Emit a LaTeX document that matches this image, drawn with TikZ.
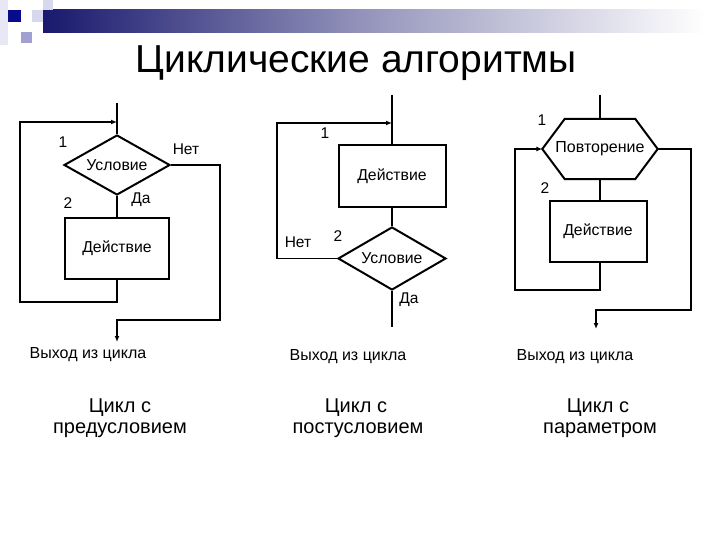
\documentclass[tikz,border=0pt]{standalone}
\usepackage{fontspec}
\setmainfont{Liberation Sans}
\usetikzlibrary{shapes.geometric,arrows.meta,calc}
\definecolor{navy}{RGB}{25,25,110}
\definecolor{deepblue}{RGB}{10,10,140}
\definecolor{lav}{RGB}{215,215,238}
\definecolor{midlav}{RGB}{160,160,210}
\begin{document}
\begin{tikzpicture}[x=1pt,y=-1pt,
  line/.style={line width=2pt},
  thinline/.style={line width=1.5pt},
  arr/.style={-{Latex[length=6pt,width=5pt]}},
  lbl/.style={font=\fontsize{15.5}{17}\selectfont, inner sep=0},
  exitlbl/.style={font=\fontsize{16}{18}\selectfont, inner sep=0},
  ttl/.style={font=\fontsize{20}{24}\selectfont, inner sep=0, anchor=base},
  actbox/.style={draw, line width=2pt, minimum width=104pt, minimum height=61pt, inner sep=0, font=\fontsize{15.8}{17}\selectfont},
  cond/.style={diamond, draw, line width=2pt, aspect=2, minimum width=106pt, minimum height=60pt, inner sep=0, font=\fontsize{15.8}{17}\selectfont},
  hexnode/.style={rectangle, minimum width=115pt, minimum height=60pt, inner sep=0, font=\fontsize{16}{17}\selectfont},
]
\useasboundingbox (0,0) rectangle (720,540);
% header decoration
\fill[lav!60] (0,0) rectangle (8,45);
\shade[left color=navy, right color=white, middle color=navy!45] (43,10) rectangle (705,33);
\fill[lav] (43,0) rectangle (53,10);
\fill[deepblue] (8,10) rectangle (21,22);
\fill[lav] (32,10) rectangle (43,22);
\fill[midlav] (21,32) rectangle (32,43);
% title
\node[font=\fontsize{39}{44}\selectfont, inner sep=0, anchor=base] (title) at (356,73) {Циклические алгоритмы};

% ---------- left: pre-condition loop ----------
\coordinate (t1) at (117,103);
\coordinate (j1) at (117,122);
\node[cond] (c1) at (117,165) {Условие};
\node[actbox] (a1) at (117,248.5) {Действие};
\coordinate (e1) at (117,342);
\draw[line] (t1) -- (c1.north);
\draw[line] (c1.south) -- (a1.north);
\draw[thinline,arr] (a1.south) -- (117,302) -- (20,302) -- (20,122) -- (j1);
\draw[line,arr] (c1.east) -- (220,165) -- (220,320) -- (117,320) -- (e1);
\node[lbl] (n11) at (63,142) {1};
\node[lbl] (n12) at (68,203) {2};
\node[lbl] (no1) at (186,149) {Нет};
\node[lbl] (yes1) at (141,200) {Да};
\node[exitlbl] (x1) at (88,355) {Выход из цикла};
\node[ttl] (tt1a) at (120,412) {Цикл с};
\node[ttl] (tt1b) at (120,433) {предусловием};

% ---------- middle: post-condition loop ----------
\coordinate (t2) at (392,95);
\coordinate (j2) at (392,123);
\node[actbox, minimum width=107pt, minimum height=62pt] (a2) at (392,176) {Действие};
\node[cond, minimum width=108pt, minimum height=63pt] (c2) at (392,258.5) {Условие};
\coordinate (b2) at (392,327);
\draw[line] (t2) -- (a2.north);
\draw[line] (a2.south) -- (c2.north);
\draw[line] (c2.south) -- (b2);
\draw[thinline,arr] (c2.west) -- (277,258.5) -- (277,123) -- (j2);
\node[lbl] (n21) at (325,133) {1};
\node[lbl] (n22) at (338,236) {2};
\node[lbl] (no2) at (298,242) {Нет};
\node[lbl] (yes2) at (409,300) {Да};
\node[exitlbl] (x2) at (348,357) {Выход из цикла};
\node[ttl] (tt2a) at (356,412) {Цикл с};
\node[ttl] (tt2b) at (358,433) {постусловием};

% ---------- right: loop with parameter ----------
\coordinate (t3) at (600,95);
\node[hexnode] (h3) at (600,149) {Повторение};
\draw[line] ($(h3.north west)+(22.5,0)$) -- ($(h3.north east)+(-22.5,0)$) -- (h3.east)
  -- ($(h3.south east)+(-22.5,0)$) -- ($(h3.south west)+(22.5,0)$) -- (h3.west) -- cycle;
\node[actbox, minimum width=97pt, minimum height=61pt] (a3) at (598,231.5) {Действие};
\coordinate (e3) at (596,329);
\draw[line] (t3) -- (h3.north);
\draw[line] (h3.south) -- (h3.south |- a3.north);
\draw[thinline,arr] (a3.south -| h3.south) -- (600,290) -- (515,290) -- (515,149) -- (h3.west);
\draw[line,arr] (h3.east) -- (691,149) -- (691,310) -- (596,310) -- (e3);
\node[lbl] (n31) at (542,120) {1};
\node[lbl] (n32) at (545,188) {2};
\node[exitlbl] (x3) at (575,357) {Выход из цикла};
\node[ttl] (tt3a) at (598,412) {Цикл с};
\node[ttl] (tt3b) at (600,433) {параметром};
\end{tikzpicture}
\end{document}
